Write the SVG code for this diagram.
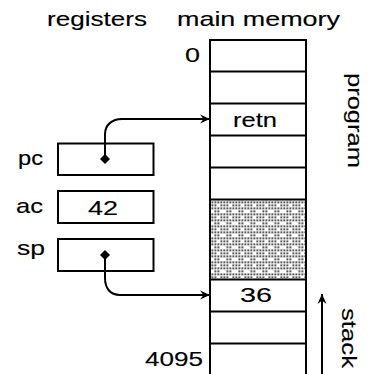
<svg xmlns="http://www.w3.org/2000/svg" width="369" height="374" viewBox="0 0 369 374">
  <style>
    .t { font-family: "Liberation Sans", "DejaVu Sans", sans-serif; font-size: 21px; fill: #000; stroke: #000; stroke-width: 0.15; }
    .box { fill: #fff; stroke: #000; stroke-width: 2; }
    .ln { stroke: #000; stroke-width: 2; fill: none; }
    .d { fill: #000; }
  </style>
  <defs>
    <pattern id="stip" x="211.5" y="201.5" width="12" height="12" patternUnits="userSpaceOnUse">
      <rect class="d" x="0" y="0" width="1.6" height="1.6"/>
      <rect class="d" x="3" y="0" width="1.6" height="1.6"/>
      <rect class="d" x="6" y="0" width="1.6" height="1.6"/>
      <rect class="d" x="9" y="0" width="1.6" height="1.6"/>
      <rect class="d" x="0" y="3" width="1.6" height="1.6"/>
      <rect class="d" x="3" y="3" width="1.6" height="1.6"/>
      <rect class="d" x="9" y="3" width="1.6" height="1.6"/>
      <rect class="d" x="0" y="6" width="1.6" height="1.6"/>
      <rect class="d" x="3" y="6" width="1.6" height="1.6"/>
      <rect class="d" x="6" y="6" width="1.6" height="1.6"/>
      <rect class="d" x="9" y="6" width="1.6" height="1.6"/>
      <rect class="d" x="3" y="9" width="1.6" height="1.6"/>
      <rect class="d" x="6" y="9" width="1.6" height="1.6"/>
    </pattern>
    <marker id="arr" markerWidth="12" markerHeight="12" refX="10" refY="6" orient="auto" markerUnits="userSpaceOnUse">
      <path d="M0,1.5 L10,6 L0,10.5 L3.5,6 Z" fill="#000"/>
    </marker>
  </defs>
  <rect width="369" height="374" fill="#fff"/>

  <g id="titles">
    <text class="t" x="47" y="26" textLength="100" lengthAdjust="spacingAndGlyphs">registers</text>
    <text class="t" x="177" y="26" textLength="163" lengthAdjust="spacingAndGlyphs">main memory</text>
  </g>

  <g id="memory">
    <rect x="211" y="200.5" width="94" height="78" fill="url(#stip)"/>
    <path class="ln" d="M210,376 V40 H306 V376"/>
    <path class="ln" d="M210,71.5 H306 M210,103.5 H306 M210,135.5 H306 M210,167.5 H306 M210,199.5 H306 M210,279.5 H306 M210,311.5 H306 M210,343.5 H306"/>
    <text class="t" x="185" y="62" textLength="15" lengthAdjust="spacingAndGlyphs">0</text>
    <text class="t" x="145" y="366" textLength="58" lengthAdjust="spacingAndGlyphs">4095</text>
    <text class="t" x="233" y="127" textLength="44" lengthAdjust="spacingAndGlyphs">retn</text>
    <text class="t" x="240" y="302" textLength="32" lengthAdjust="spacingAndGlyphs">36</text>
    <text class="t" transform="translate(348,73) rotate(90)" textLength="95" lengthAdjust="spacingAndGlyphs">program</text>
    <text class="t" transform="translate(342,308) rotate(90)" textLength="60" lengthAdjust="spacingAndGlyphs">stack</text>
  </g>

  <g id="pc">
    <text class="t" x="18" y="165" textLength="25" lengthAdjust="spacingAndGlyphs">pc</text>
    <rect class="box" x="58" y="143.5" width="95.5" height="31.5"/>
  </g>
  <g id="ac">
    <text class="t" x="16" y="213" textLength="27" lengthAdjust="spacingAndGlyphs">ac</text>
    <rect class="box" x="58" y="191" width="95.5" height="32"/>
    <text class="t" x="88" y="215" textLength="30" lengthAdjust="spacingAndGlyphs">42</text>
  </g>
  <g id="sp">
    <text class="t" x="17" y="255" textLength="28" lengthAdjust="spacingAndGlyphs">sp</text>
    <rect class="box" x="58" y="239" width="95.5" height="32"/>
  </g>

  <g id="connectors">
    <path class="ln" d="M105,159 V134 C105,125 112,119 122,119 H210" marker-end="url(#arr)"/>
    <path class="d" d="M105,154 L110,159 L105,164 L100,159 Z"/>
    <path class="ln" d="M105,255 V278 C105,288 110,295 120,295 H210" marker-end="url(#arr)"/>
    <path class="d" d="M105,250 L110,255 L105,260 L100,255 Z"/>
    <path class="ln" d="M322,376 V294" marker-end="url(#arr)"/>
  </g>
</svg>
